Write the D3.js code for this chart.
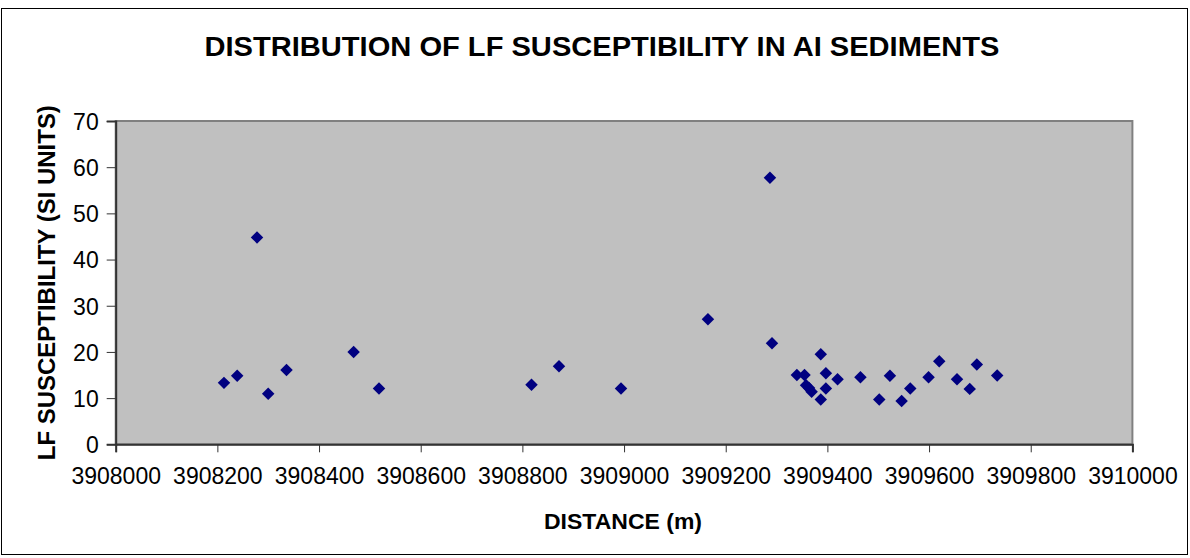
<!DOCTYPE html>
<html>
<head>
<meta charset="utf-8">
<script src="https://cdn.jsdelivr.net/npm/d3@7"></script>
<style>
  html, body { margin: 0; padding: 0; background: #fff; }
  svg { display: block; }
  text { font-family: "Liberation Sans", Arial, sans-serif; fill: #000; }
</style>
</head>
<body>
<svg id="chart" width="1190" height="558"></svg>
<script>
const title = "DISTRIBUTION OF LF SUSCEPTIBILITY IN AI SEDIMENTS";
const xTitle = "DISTANCE (m)";
const yTitle = "LF SUSCEPTIBILITY (SI UNITS)";

const distance = [3908213, 3908239, 3908278, 3908300, 3908336, 3908468, 3908518, 3908818,
  3908872, 3908994, 3909165, 3909287, 3909291, 3909340, 3909355, 3909358, 3909364, 3909369,
  3909387, 3909387, 3909397, 3909397, 3909420, 3909465, 3909502, 3909523, 3909546, 3909563,
  3909599, 3909620, 3909655, 3909680, 3909694, 3909734];
const susceptibility = [13.3, 14.85, 44.8, 10.95, 16.1, 20.0, 12.1, 12.9,
  16.9, 12.1, 27.1, 57.7, 21.9, 15.0, 15.0, 12.8, 12.2, 11.4,
  19.5, 9.7, 15.4, 12.1, 14.1, 14.5, 9.7, 14.85, 9.4, 12.1,
  14.5, 18.0, 14.1, 12.0, 17.3, 14.9];

const xTicks = [3908000, 3908200, 3908400, 3908600, 3908800, 3909000, 3909200, 3909400, 3909600, 3909800, 3910000];
const yTicks = [0, 10, 20, 30, 40, 50, 60, 70];

const svg = d3.select("#chart");
const plot = { left: 115.7, top: 121, right: 1132.4, bottom: 444.3 };

// outer chart border
svg.append("rect").attr("x", 1.5).attr("y", 8.5).attr("width", 1186).attr("height", 546)
  .attr("fill", "#fff").attr("stroke", "#000").attr("stroke-width", 1);

const x = d3.scaleLinear().domain([3908000, 3910000]).range([plot.left, plot.right]);
const y = d3.scaleLinear().domain([0, 70]).range([plot.bottom, plot.top]);

// plot area
svg.append("rect")
  .attr("x", plot.left).attr("y", plot.top)
  .attr("width", plot.right - plot.left).attr("height", plot.bottom - plot.top)
  .attr("fill", "#C0C0C0").attr("stroke", "#808080").attr("stroke-width", 2);

// axes
const xAxis = svg.append("g").attr("transform", `translate(0,${plot.bottom})`)
  .call(d3.axisBottom(x).tickValues(xTicks).tickFormat(d3.format("d")).tickSizeOuter(0).tickSize(8).tickPadding(15));
const yAxis = svg.append("g").attr("transform", `translate(${plot.left},0)`)
  .call(d3.axisLeft(y).tickValues(yTicks).tickSizeOuter(0).tickSize(9).tickPadding(8));

[xAxis, yAxis].forEach(g => {
  g.select(".domain").attr("stroke", "#333").attr("stroke-width", 2);
  g.selectAll(".tick line").attr("stroke", "#333").attr("stroke-width", 1);
  g.selectAll(".tick text").attr("font-size", 23).attr("font-family", "'Liberation Sans', Arial, sans-serif").attr("fill", "#000");
});
yAxis.selectAll(".tick text").attr("dy", "0.36em");

// points
const pts = distance.map((d, i) => ({ d, v: susceptibility[i] }));
svg.append("g").selectAll("path").data(pts).join("path")
  .attr("d", d3.symbol().type(d3.symbolSquare).size(78))
  .attr("transform", p => `translate(${x(p.d)},${y(p.v)}) rotate(45)`)
  .attr("fill", "#000080");

// titles
svg.append("text").attr("x", 602).attr("y", 56).attr("text-anchor", "middle")
  .attr("font-size", 27).attr("font-weight", "bold")
  .attr("textLength", 795).attr("lengthAdjust", "spacingAndGlyphs").text(title);
svg.append("text").attr("x", 623).attr("y", 528.5).attr("text-anchor", "middle")
  .attr("font-size", 21.5).attr("font-weight", "bold")
  .attr("textLength", 158).attr("lengthAdjust", "spacingAndGlyphs").text(xTitle);
svg.append("text").attr("transform", `translate(54.5,${(plot.top + plot.bottom) / 2}) rotate(-90)`)
  .attr("text-anchor", "middle").attr("font-size", 23).attr("font-weight", "bold")
  .attr("textLength", 355).attr("lengthAdjust", "spacingAndGlyphs").text(yTitle);
</script>
</body>
</html>
